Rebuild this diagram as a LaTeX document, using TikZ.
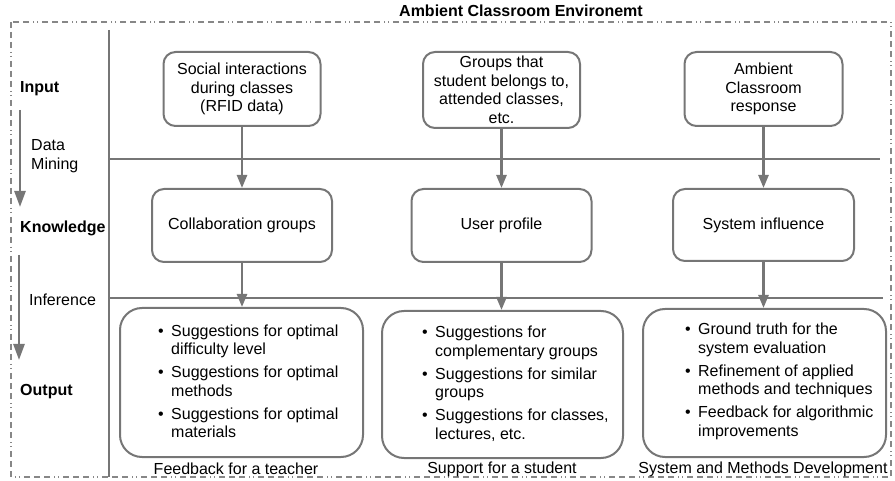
\documentclass[tikz,border=0pt]{standalone}
\usepackage{fontspec}
\setmainfont{Liberation Sans}
\usetikzlibrary{arrows.meta}
\definecolor{lg}{RGB}{118,118,118}
\definecolor{bordergray}{RGB}{135,135,135}
\newcommand{\bul}[2]{\makebox[13pt][l]{\textbullet}#1\\\hspace*{13pt}#2}
\begin{document}
\begin{tikzpicture}[x=1pt,y=-1pt,
  font=\fontsize{16}{18.5}\selectfont,
  box/.style={draw=lg, line width=2pt, rounded corners=12pt, inner sep=0pt, align=center},
  bigbox/.style={draw=lg, line width=2pt, rounded corners=22pt, inner sep=0pt},
  conn/.style={draw=lg, line width=2.5pt, -{Triangle[width=10pt,length=13pt]}},
  sideconn/.style={draw=lg, line width=2.5pt, -{Triangle[width=11pt,length=16pt]}},
  rule/.style={draw=lg, line width=2pt},
  lbl/.style={anchor=west, inner sep=0pt},
  boldlbl/.style={anchor=west, inner sep=0pt, font=\fontsize{16}{18.5}\selectfont\bfseries},
  list/.style={anchor=west, inner sep=0pt, align=left}]
\useasboundingbox (0,0) rectangle (895,481);
% outer border
\draw[bordergray, line width=1.5pt, dash pattern=on 6pt off 4pt on 6pt off 4pt on 6pt off 4pt on 1pt off 3pt on 1pt off 4pt] (11,22) rectangle (891,477);
\node[font=\fontsize{16}{18.5}\selectfont\bfseries] (title) at (521,11) {Ambient Classroom Environemt};
% rules
\draw[rule] (109,30) -- (109,477);
\draw[rule] (109,159) -- (880,159);
\draw[rule] (109,298) -- (883,298);
% top boxes
\node[box, minimum width=157pt, minimum height=74pt] (t1) at (242,89) {Social interactions\\during classes\\(RFID data)};
\node[box, minimum width=157pt, minimum height=76pt] (t2) at (501.5,90) {Groups that\\student belongs to,\\attended classes,\\etc.};
\node[box, minimum width=158pt, minimum height=74pt] (t3) at (763.5,89) {Ambient\\Classroom\\response};
% middle boxes
\node[box, minimum width=180pt, minimum height=73pt] (m1) at (242,225.5) {Collaboration groups};
\node[box, minimum width=180pt, minimum height=73pt] (m2) at (501.5,225.5) {User profile};
\node[box, minimum width=181pt, minimum height=72pt] (m3) at (763.5,225) {System influence};
% bottom boxes
\node[bigbox, minimum width=243pt, minimum height=149pt] (b1) at (241.5,382.5) {};
\node[bigbox, minimum width=241pt, minimum height=147pt] (b2) at (502.5,384.5) {};
\node[bigbox, minimum width=243pt, minimum height=148pt] (b3) at (764.5,383) {};
\node[list] (b1t) at (158,381.5) {\bul{Suggestions for optimal}{difficulty level}\\[4.5pt]\bul{Suggestions for optimal}{methods}\\[4.5pt]\bul{Suggestions for optimal}{materials}};
\node[list] (b2t) at (422,383.5) {\bul{Suggestions for}{complementary groups}\\[4.5pt]\bul{Suggestions for similar}{groups}\\[4.5pt]\bul{Suggestions for classes,}{lectures, etc.}};
\node[list] (b3t) at (685,381.5) {\bul{Ground truth for the}{system evaluation}\\[4.5pt]\bul{Refinement of applied}{methods and techniques}\\[4.5pt]\bul{Feedback for algorithmic}{improvements}};
% captions
\node (c1) at (236,469) {Feedback for a teacher};
\node (c2) at (502,469) {Support for a student};
\node (c3) at (763,469) {System and Methods Development};
% arrows
\draw[conn] (t1.south) -- (m1.north);
\draw[conn] (t2.south) -- (m2.north);
\draw[conn] (t3.south) -- (m3.north);
\draw[conn] (m1.south) -- (m1.south |- b1.north);
\draw[conn] (m2.south) -- (m2.south |- b2.north);
\draw[conn] (m3.south) -- (m3.south |- b3.north);
% left labels
\node[boldlbl] (lin) at (20,89) {Input};
\node[lbl, align=left] (ldm) at (31,156) {Data\\Mining};
\node[boldlbl] (lkn) at (20,228) {Knowledge};
\node[lbl] (linf) at (29,300) {Inference};
\node[boldlbl] (lout) at (20,392) {Output};
\coordinate (a1s) at (20,110);
\coordinate (a1e) at (20,207);
\coordinate (a2s) at (19,255);
\coordinate (a2e) at (19,360);
\draw[sideconn] (a1s) -- (a1e);
\draw[sideconn] (a2s) -- (a2e);
\end{tikzpicture}
\end{document}
